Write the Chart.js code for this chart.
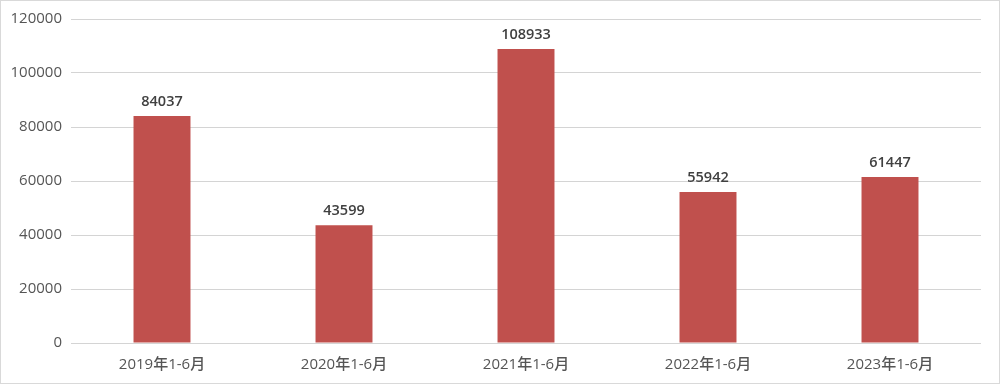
<!DOCTYPE html>
<html>
<head>
<meta charset="utf-8">
<script src="https://cdn.jsdelivr.net/npm/chart.js@4/dist/chart.umd.min.js"></script>
<style>
  html, body { margin: 0; padding: 0; background: #fff; }
  #wrap { width: 1000px; height: 384px; box-sizing: border-box; border: 1px solid #d9d9d9; position: relative; }
  #wrap canvas { display: block; }
</style>
</head>
<body>
<div id="wrap"><canvas id="chart" width="998" height="382"></canvas></div>
<script>
const categories = ['2019年1-6月', '2020年1-6月', '2021年1-6月', '2022年1-6月', '2023年1-6月'];
const values = [84037, 43599, 108933, 55942, 61447];
const yTicks = [0, 20000, 40000, 60000, 80000, 100000, 120000];

const fontFamily = '"Open Sans", "Noto Sans CJK SC", sans-serif';

// labels above each bar
const barLabels = {
    id: 'barLabels',
    afterDatasetsDraw(chart) {
        const ctx = chart.ctx;
        const meta = chart.getDatasetMeta(0);
        ctx.save();
        ctx.font = '600 14.5px ' + fontFamily;
        ctx.fillStyle = '#404040';
        ctx.textAlign = 'center';
        ctx.textBaseline = 'bottom';
        meta.data.forEach((bar, i) => {
            ctx.fillText(String(values[i]), bar.x, bar.y - 7);
        });
        ctx.restore();
    }
};

new Chart(document.getElementById('chart'), {
    type: 'bar',
    data: {
        labels: categories,
        datasets: [{
            data: values,
            backgroundColor: '#C0504D',
            categoryPercentage: 1,
            barPercentage: 0.313,
        }],
    },
    options: {
        responsive: false,
        animation: false,
        layout: { padding: { top: 17, right: 18, left: 0, bottom: 0 } },
        plugins: {
            legend: { display: false },
            tooltip: { enabled: false },
        },
        scales: {
            x: {
                grid: { display: false },
                border: { display: false },
                ticks: { color: '#555', font: { family: fontFamily, size: 15, weight: 500 }, padding: 5, maxRotation: 0 },
                afterFit: scale => { scale.height = 40; },
            },
            y: {
                min: 0,
                max: 120000,
                afterBuildTicks: scale => { scale.ticks = yTicks.map(v => ({ value: v })); },
                grid: { color: '#d4d4d4', lineWidth: 1, drawTicks: false },
                border: { display: false },
                ticks: {
                    color: '#555',
                    font: { family: fontFamily, size: 15, weight: 500 },
                    padding: 9,
                    callback: v => String(v),
                },
                afterFit: scale => { scale.width = 70; },
            },
        },
    },
    plugins: [barLabels],
});
</script>
</body>
</html>
